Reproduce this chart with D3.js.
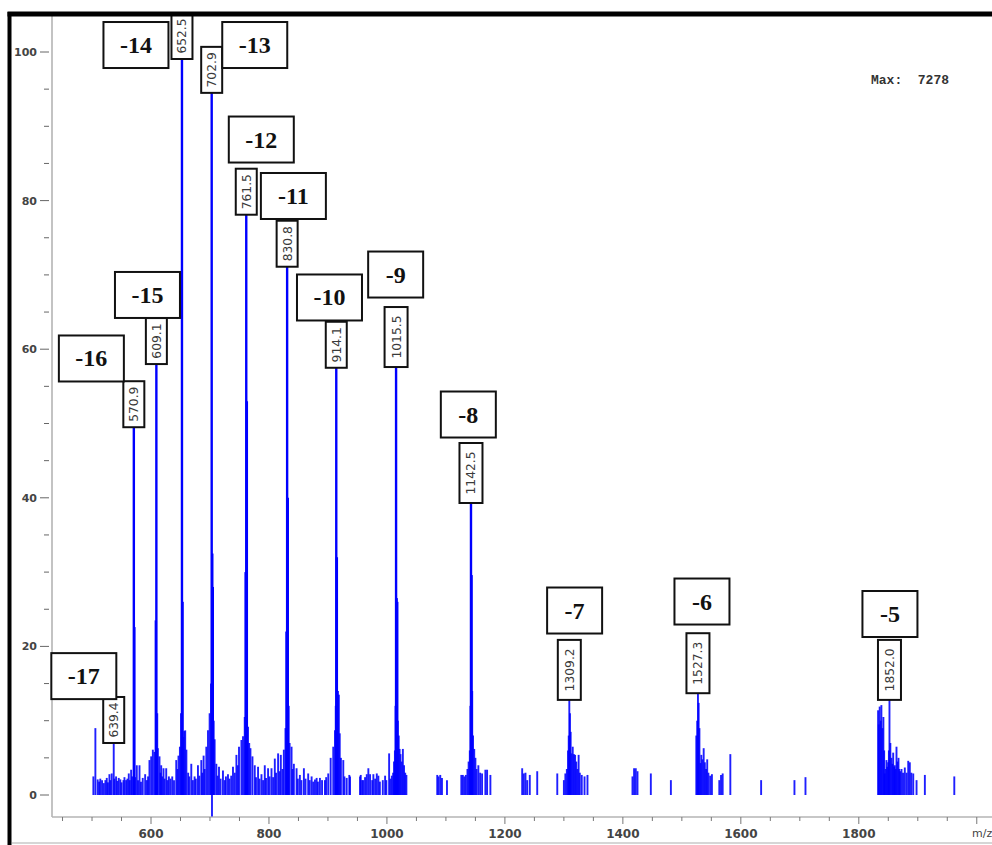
<!DOCTYPE html>
<html><head><meta charset="utf-8">
<script src="https://cdn.jsdelivr.net/npm/d3@7"></script>
<style>body{margin:0;background:#fff} svg{display:block}</style>
</head><body>
<svg id="c" width="992" height="845"></svg>
<script>
// ---- DATA ----
// stick spectrum: [m/z, relative intensity %]
const sticks = [
[502.3,2.5],[505.7,9.0],[509.6,2.1],[512,1.8],[514,2.2],[517.0,2.0],[520,1.6],[522.7,2.0],[525,2.3],[527,1.7],[529.5,2.8],[531,2.0],[533.4,2.9],[536.8,7.0],[538,2.2],[540.8,2.5],[543,1.9],[545.3,2.3],[548,2.1],[550,1.7],[553.3,2.0],[555,2.4],[557.8,2.0],[560,2.2],[562.3,2.9],[564,2.0],[566.3,3.4],[568,2.5],[570.9,49.5],[571.8,22.6],[573,2.4],[575.9,4.0],[578,2.0],[580.5,4.0],[583,1.8],[586,2.3],[590.1,2.8],[593,2.0],[595,2.5],[597.4,4.7],[600.3,5.2],[603.1,6.1],[605.9,5.8],[608.2,23.5],[609.1,58.0],[610.6,11.0],[611.6,6.3],[614.4,5.2],[616,3.0],[617.3,4.0],[619,2.5],[621.2,3.6],[623,2.2],[625.8,3.6],[628,2.0],[630.3,2.5],[633,2.2],[636.0,2.5],[639,2.0],[642.8,4.7],[645,3.5],[646.6,5.3],[649.0,6.5],[650.8,11.0],[652.5,100],[653.5,26],[654.6,7.8],[656.3,8.6],[658.0,8.7],[660.0,6.1],[663,3.0],[665,2.5],[668.3,4.2],[671,2.0],[673.9,2.5],[676,2.2],[679.6,4.0],[682,2.6],[685.3,4.7],[687,3.0],[689.2,5.3],[691,3.5],[693.8,6.5],[696.6,8.7],[699.4,11.0],[701.6,15],[702.9,94.5],[703.9,32.5],[704.8,28],[706.3,10],[707.9,7.5],[710.8,4.2],[713,2.6],[715.3,3.8],[718,2.2],[722.0,3.3],[725,2.0],[727,2.5],[730.5,2.8],[733,2.2],[736,2.6],[739.0,3.8],[742,3.0],[744.8,5.4],[747,4.0],[749.2,6.5],[753.3,7.4],[756.0,7.9],[758.9,10.5],[760.4,30],[761.5,78.1],[762.5,53],[764.5,9.2],[766.5,7.0],[768.6,6.3],[772.0,5.2],[775.9,4.0],[778,2.4],[781.5,3.8],[784,2.2],[787.3,2.8],[790,2.0],[792.9,4.0],[795,2.3],[798.5,3.6],[801,2.5],[804.3,3.6],[807,2.4],[809.9,4.9],[812,3.0],[815.5,5.6],[818,3.2],[820.1,5.4],[823,3.5],[825.2,6.1],[828.0,9.0],[829.7,22],[830.8,71.1],[831.9,40],[833.5,12],[835,7.0],[838.3,6.5],[840,3.5],[842.2,4.2],[846.8,3.6],[849,2.2],[852.4,2.7],[855,2.0],[859.2,3.6],[862,2.2],[866.5,2.9],[869,2.0],[872.3,2.5],[875,1.8],[878,2.1],[880.8,2.3],[883,1.8],[886.4,2.3],[890,2.0],[894.9,2.0],[897,2.4],[900.5,2.9],[904.6,5.0],[909.0,6.5],[911.9,8.7],[913.2,12],[914.1,57.5],[915.1,32],[917.0,14],[918.5,13.5],[920.0,8.3],[922,5.0],[926.0,4.7],[928,2.5],[931.8,2.3],[936.2,2.7],[937.4,2.5],[954.4,2.5],[955.6,2.7],[958,2.0],[960.0,2.0],[962.9,2.4],[965.8,2.8],[968.5,3.6],[971.4,2.8],[975,2.0],[977.0,2.8],[980,2.2],[982.8,2.9],[985.5,2.6],[988,1.8],[993.0,2.0],[996.9,2.6],[999,2.0],[1003.7,5.6],[1006,2.2],[1008.3,2.6],[1010.5,3.0],[1012.0,4.5],[1013.5,6.0],[1014.5,12],[1015.5,57.6],[1016.5,26.5],[1017.5,26],[1018.6,10],[1020.0,8],[1021.5,6.2],[1023.0,5.5],[1025.0,4.5],[1027.0,6.2],[1029.0,4.0],[1031.0,3.0],[1033.0,2.7],[1085.3,2.7],[1087.5,2.5],[1090.4,2.7],[1093.3,2.3],[1101.8,2.0],[1126.1,2.7],[1128.7,2.7],[1131.2,2.5],[1133.8,2.7],[1136.5,3.5],[1138.5,4.5],[1140.5,6.0],[1141.5,12],[1142.5,39.3],[1143.5,29.6],[1144.6,14],[1146,8],[1148,6.2],[1150,5.0],[1152,3.5],[1155,4.0],[1158,3.0],[1161.3,2.9],[1166.9,3.4],[1169.8,3.4],[1175.4,2.7],[1229.3,3.6],[1232.0,2.9],[1234.9,3.0],[1237.8,2.0],[1242.2,2.7],[1254.8,3.2],[1288.8,2.9],[1300.0,2.0],[1302.5,2.9],[1305,3.5],[1307,6],[1308.2,8],[1309.2,12.8],[1310.3,11],[1311.5,8.5],[1313,5.6],[1315,6.5],[1317,5.5],[1319,5.4],[1321,4.5],[1323,3.5],[1325,5.4],[1327,3.0],[1330.3,2.7],[1335,2.5],[1340,2.7],[1416.3,2.5],[1419.0,3.6],[1421.9,3.6],[1424.8,3.2],[1447.4,2.9],[1481.4,2.0],[1524.5,8],[1526.0,10],[1527.3,13.7],[1528.5,12.4],[1529.8,9],[1531.5,4.3],[1533,5.4],[1535,4.8],[1537,6.3],[1539,4.4],[1541,3.5],[1543,4.8],[1545,3.0],[1548,2.6],[1551,2.8],[1563.5,2.0],[1566.4,2.7],[1569.2,2.9],[1582.2,5.5],[1634.4,2.0],[1690.9,2.0],[1709.6,2.4],[1832.7,11.4],[1834,9.5],[1835.4,11.9],[1837,10],[1838.3,12.1],[1840,9],[1841.7,10.5],[1843,6],[1844.0,2.9],[1845.5,3.5],[1846.9,4.7],[1848.3,3.8],[1849.8,4.4],[1851,6],[1852.0,12.8],[1853.5,7],[1855.4,5.0],[1857,4.2],[1858.3,5.7],[1860,3.8],[1861,4.0],[1862.5,3.5],[1863.9,6.5],[1865.5,4.5],[1867.3,5.0],[1868.5,3.5],[1870,3.2],[1872.4,3.5],[1875,3.0],[1878.0,3.7],[1881,3.0],[1883.8,4.6],[1886.5,4.4],[1889,3.0],[1892.3,2.9],[1897.9,2.0],[1912.0,2.7],[1961.9,2.5],[703.4,-2.9]
];
// peak value labels
const labelText = ["639.4","570.9","609.1","652.5","702.9","761.5","830.8","914.1","1015.5","1142.5","1309.2","1527.3","1852.0"];
const labelMz   = [536.8,570.9,609.1,652.5,702.9,761.5,830.8,914.1,1015.5,1142.5,1309.2,1527.3,1852.0];
const labelInt  = [7.0,49.5,58.0,100,94.5,78.1,71.1,57.5,57.6,39.3,12.8,13.7,12.8];
// charge state annotations (centre in data units)
const charges   = ["-17","-16","-15","-14","-13","-12","-11","-10","-9","-8","-7","-6","-5"];
const chargeMz  = [486.1,498.9,594.0,574.5,775.9,787.0,841.4,902.6,1014.8,1138.0,1318.2,1534.1,1852.8];
const chargeInt = [16.0,58.75,67.3,100.94,100.94,88.22,80.62,66.96,70.05,51.21,24.83,26.04,24.36];
// axes
const xMajorTicks = [600,800,1000,1200,1400,1600,1800,2000];
const xTickLabels = ["600","800","1000","1200","1400","1600","1800",""];
const yMajorTicks = [0,20,40,60,80,100];
const yTickLabels = ["0","20","40","60","80","100"];
const maxText = "Max:  7278";
const xUnit = "m/z";

// ---- CHART ----
const svg = d3.select("#c");
const x = d3.scaleLinear().domain([600,1800]).range([151,858.8]);
const y = d3.scaleLinear().domain([0,100]).range([795,52]);
const plotL = 52, plotR = 992, plotT = 16, plotB = 817;

svg.append("defs").append("clipPath").attr("id","clip")
  .append("rect").attr("x",plotL).attr("y",plotT).attr("width",plotR-plotL).attr("height",plotB-plotT);

// axes lines
svg.append("line").attr("x1",plotL).attr("x2",plotL).attr("y1",plotT).attr("y2",plotB)
  .attr("stroke","#b4b4b4").attr("stroke-width",1.6);
svg.append("line").attr("x1",plotL).attr("x2",plotR).attr("y1",plotB).attr("y2",plotB)
  .attr("stroke","#b4b4b4").attr("stroke-width",1.6);
svg.append("line").attr("x1",12).attr("x2",plotR).attr("y1",843).attr("y2",843)
  .attr("stroke","#c8c8c8").attr("stroke-width",1.5);

// y ticks
const yMinor = d3.range(0,101,5).filter(v=>v%20!==0);
svg.selectAll(".ymin").data(yMinor).join("line")
  .attr("x1",44).attr("x2",49).attr("y1",d=>y(d)).attr("y2",d=>y(d))
  .attr("stroke","#666").attr("stroke-width",1);
svg.selectAll(".ymaj").data(yMajorTicks).join("line")
  .attr("x1",40).attr("x2",49).attr("y1",d=>y(d)).attr("y2",d=>y(d))
  .attr("stroke","#666").attr("stroke-width",1);
svg.selectAll(".ylab").data(yMajorTicks).join("text")
  .attr("x",37).attr("y",d=>y(d)+4).attr("text-anchor","end")
  .attr("font-family","DejaVu Sans").attr("font-weight","bold").attr("font-size",11)
  .attr("fill","#444").text((d,i)=>yTickLabels[i]);

// x ticks
const xMinor = d3.range(450,2001,50).filter(v=>v%200!==0);
svg.selectAll(".xmin").data(xMinor).join("line")
  .attr("x1",d=>x(d)).attr("x2",d=>x(d)).attr("y1",plotB).attr("y2",plotB+4)
  .attr("stroke","#777").attr("stroke-width",1);
svg.selectAll(".xmaj").data(xMajorTicks).join("line")
  .attr("x1",d=>x(d)).attr("x2",d=>x(d)).attr("y1",plotB).attr("y2",plotB+7)
  .attr("stroke","#777").attr("stroke-width",1);
svg.selectAll(".xlab").data(xMajorTicks).join("text")
  .attr("x",d=>x(d)).attr("y",838).attr("text-anchor","middle")
  .attr("font-family","DejaVu Sans").attr("font-weight","bold").attr("font-size",12)
  .attr("fill","#444").text((d,i)=>xTickLabels[i]);
svg.append("text").attr("x",972).attr("y",837)
  .attr("font-family","DejaVu Sans").attr("font-size",11).attr("fill","#444").text(xUnit);

// sticks
const g = svg.append("g").attr("clip-path","url(#clip)");
g.selectAll(".stick").data(sticks).join("line")
  .attr("x1",d=>x(d[0])).attr("x2",d=>x(d[0]))
  .attr("y1",y(0)).attr("y2",d=>y(d[1]))
  .attr("stroke","#0000ff")
  .attr("stroke-width",d=>Math.abs(d[1])>=20?2.4:1.9)
  .attr("stroke-opacity",d=>Math.abs(d[1])>=20?1:0.88);

// value labels
const vl = svg.append("g");
labelText.forEach((t,i)=>{
  const h = t.length>5 ? 60 : 46;
  const w = t.length>5 ? 23 : 21;
  const cx = x(labelMz[i]);
  const bottom = Math.max(y(labelInt[i]), 13 + h);
  vl.append("rect").attr("x",cx-w/2).attr("y",bottom-h).attr("width",w).attr("height",h)
    .attr("fill","#fff").attr("stroke","#111").attr("stroke-width",2);
  vl.append("text").attr("transform",`translate(${cx+4.5},${bottom-h/2}) rotate(-90)`)
    .attr("text-anchor","middle")
    .attr("font-family","DejaVu Sans").attr("font-size",12.3).attr("fill","#3a3a3a").text(t);
});

// charge boxes
const cb = svg.append("g");
charges.forEach((t,i)=>{
  const w = t.length>2 ? 65 : 55, h = 46;
  const cx = x(chargeMz[i]), cy = y(chargeInt[i]);
  cb.append("rect").attr("x",cx-w/2).attr("y",cy-h/2).attr("width",w).attr("height",h)
    .attr("fill","#fff").attr("stroke","#111").attr("stroke-width",2);
  cb.append("text").attr("x",cx).attr("y",cy+8).attr("text-anchor","middle")
    .attr("font-family","Liberation Serif").attr("font-weight","bold").attr("font-size",24)
    .attr("fill","#111").text(t);
});

// max text
svg.append("text").attr("x",871).attr("y",84)
  .attr("font-family","Liberation Mono").attr("font-weight","bold").attr("font-size",13)
  .attr("fill","#333").attr("xml:space","preserve").style("white-space","pre").text(maxText);

// frame
svg.append("line").attr("x1",7.5).attr("x2",992).attr("y1",14).attr("y2",14)
  .attr("stroke","#000").attr("stroke-width",5);
svg.append("line").attr("x1",9.5).attr("x2",9.5).attr("y1",12).attr("y2",845)
  .attr("stroke","#000").attr("stroke-width",4);
</script>
</body></html>
